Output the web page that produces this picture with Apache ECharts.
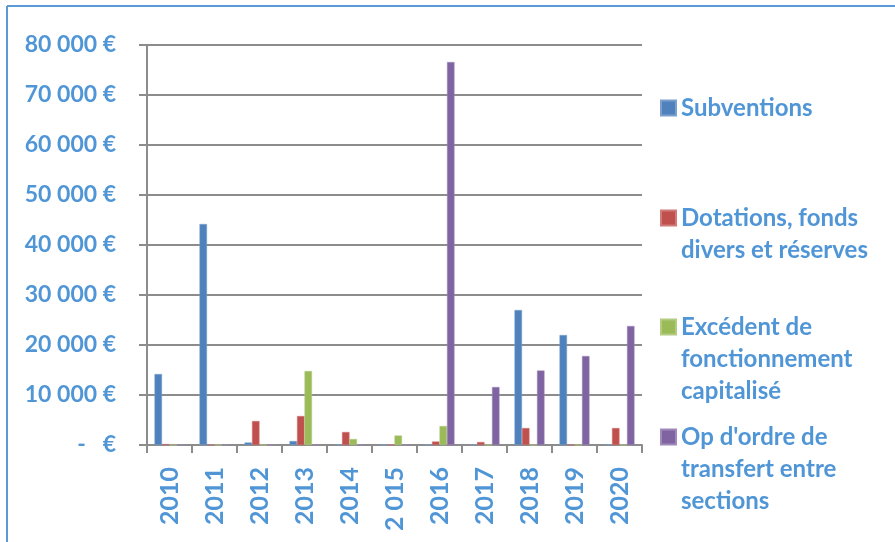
<!DOCTYPE html>
<html>
<head>
<meta charset="utf-8">
<script src="https://cdn.jsdelivr.net/npm/echarts@6/dist/echarts.min.js"></script>
<style>html,body{margin:0;padding:0;background:#fff}#c{width:895px;height:542px}</style>
</head>
<body>
<div id="c"></div>
<script>
const categories = ['2010','2011','2012','2013','2014','2 015','2016','2017','2018','2019','2020'];
const seriesNames = ['Subventions','Dotations, fonds divers et réserves','Excédent de fonctionnement capitalisé',"Op d'ordre de transfert entre sections"];
const legendLabels = ['Subventions','Dotations, fonds\ndivers et réserves','Excédent de\nfonctionnement\ncapitalisé',"Op d'ordre de\ntransfert entre\nsections"];
const subventions = [14200, 44200, 500, 800, 100, 0, 100, 100, 27000, 22000, 100];
const dotations   = [200, 100, 4800, 5800, 2600, 100, 700, 600, 3400, 0, 3400];
const excedent    = [0, 0, 0, 14800, 1200, 1900, 3800, 0, 0, 0, 0];
const opOrdre     = [0, 0, 0, 0, 0, 0, 76600, 11600, 14900, 17800, 23800];
const yTicks = {min: 0, max: 80000, interval: 10000};
const colors = ['#4f81bd','#c0504d','#9bbb59','#8064a2'];

const txt = '#5096d6';
const font = 'Lato';
const chart = echarts.init(document.getElementById('c'));
const allData = [subventions, dotations, excedent, opOrdre];
const legendCenters = [108, 218, 327, 437];
const lh = 32;
const legends = legendLabels.map((lab, i) => {
  const n = lab.split('\n').length;
  return {
    data: [seriesNames[i]],
    orient: 'vertical',
    left: 660,
    top: legendCenters[i] - 16 * (2 * n - 1),
    padding: 0,
    icon: 'rect',
    itemWidth: 15,
    itemHeight: 15,
    itemGap: 0,
    itemTextGap: 6,
    formatter: () => ' \n'.repeat(n - 1) + lab,
    textStyle: {color: txt, fontFamily: font, fontWeight: 'bold', fontSize: 24, lineHeight: lh}
  };
});
chart.setOption({
  animation: false,
  color: colors,
  legend: legends,
  grid: {left: 147, right: 253, top: 45, bottom: 97},
  xAxis: {
    type: 'category',
    data: categories,
    axisLine: {lineStyle: {color: '#8c8c8c', width: 2}},
    axisTick: {show: true, length: 8, lineStyle: {color: '#8c8c8c', width: 2}},
    axisLabel: {rotate: 90, color: txt, fontFamily: font, fontWeight: 'bold', fontSize: 25, margin: 22, interval: 0}
  },
  yAxis: {
    type: 'value',
    min: yTicks.min, max: yTicks.max, interval: yTicks.interval,
    axisLine: {show: true, lineStyle: {color: '#8c8c8c', width: 2}},
    axisTick: {show: true, length: 8, lineStyle: {color: '#8c8c8c', width: 2}},
    splitLine: {lineStyle: {color: '#8c8c8c', width: 2}},
    axisLabel: {
      color: txt, fontFamily: font, fontWeight: 'bold', fontSize: 23, margin: 31,
      formatter: v => v === 0 ? '-   €' : String(v).replace(/\B(?=(\d{3})+(?!\d))/g, ' ') + ' €'
    }
  },
  series: allData.map((d, i) => ({
    name: seriesNames[i],
    type: 'bar',
    data: d,
    barWidth: 7.5,
    barGap: '0%',
    itemStyle: {color: colors[i], borderColor: echarts.color.lift(colors[i], 0.25), borderWidth: 0.5}
  })),
  graphic: [
    {type: 'line', shape: {x1: 7, y1: 6, x2: 895, y2: 6}, style: {stroke: '#5b9bd5', lineWidth: 2}},
    {type: 'line', shape: {x1: 7, y1: 6, x2: 7, y2: 542}, style: {stroke: '#5b9bd5', lineWidth: 2}}
  ]
});
</script>
</body>
</html>
